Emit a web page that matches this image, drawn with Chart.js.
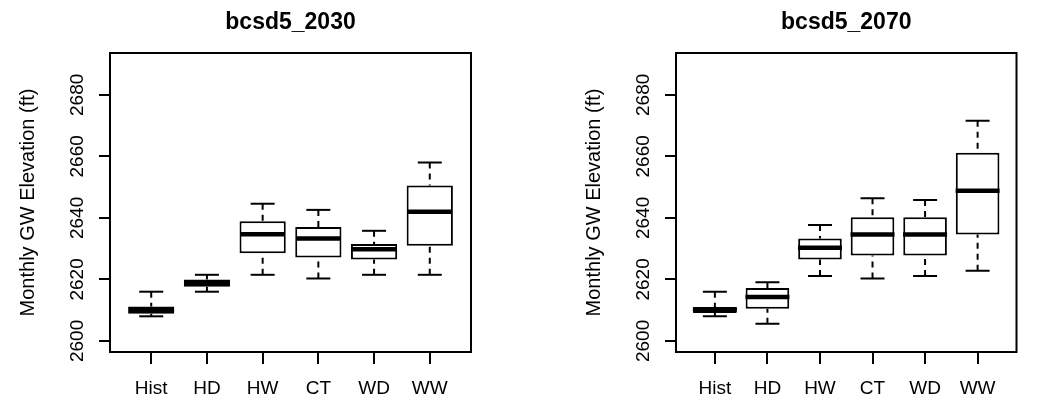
<!DOCTYPE html>
<html><head><meta charset="utf-8">
<script src="https://cdn.jsdelivr.net/npm/chart.js@4.4.1/dist/chart.umd.min.js"></script>
<style>
html,body{margin:0;padding:0;background:#fff;}
body{width:1043px;height:400px;position:relative;overflow:hidden;}
canvas{position:absolute;top:0;}
</style></head><body>
<canvas id="c1" width="521" height="400" style="left:0;width:521px;height:400px"></canvas>
<canvas id="c2" width="477" height="400" style="left:566px;width:477px;height:400px"></canvas>
<script>
// ---- data ----
const categories = ['Hist', 'HD', 'HW', 'CT', 'WD', 'WW'];
const yTickValues = [2600, 2620, 2640, 2660, 2680];
const yTitle = 'Monthly GW Elevation (ft)';

const title2030 = 'bcsd5_2030';
const low2030  = [2608.0, 2616.0, 2621.5, 2620.3, 2621.5, 2621.5];
const q1_2030  = [2608.8, 2617.6, 2628.5, 2627.1, 2626.5, 2630.9];
const med2030  = [2610.0, 2618.8, 2634.7, 2633.3, 2629.8, 2642.0];
const q3_2030  = [2611.2, 2620.0, 2638.9, 2637.0, 2631.5, 2650.5];
const high2030 = [2616.0, 2621.5, 2644.6, 2642.6, 2635.8, 2658.0];

const title2070 = 'bcsd5_2070';
const low2070  = [2608.0, 2605.6, 2621.1, 2620.3, 2621.1, 2622.8];
const q1_2070  = [2609.1, 2610.5, 2626.5, 2627.8, 2627.8, 2634.6];
const med2070  = [2610.2, 2614.3, 2630.3, 2634.6, 2634.6, 2648.8];
const q3_2070  = [2611.0, 2617.2, 2633.3, 2640.2, 2640.2, 2661.2];
const high2070 = [2616.0, 2619.1, 2637.7, 2646.4, 2645.8, 2671.6];

// ---- drawing ----
const FONT = 'Liberation Sans, Arial, sans-serif';

const framePlugin = {
  id: 'frame',
  afterDraw(chart) {
    const {ctx, chartArea: a} = chart;
    ctx.save();
    ctx.strokeStyle = '#000';
    ctx.lineWidth = 2;
    ctx.strokeRect(a.left, a.top, a.right - a.left, a.bottom - a.top);
    ctx.restore();
  }
};

function makeChart(id, title, low, q1, med, q3, high, padRight) {
  const whiskers = [];
  const caps = [];
  categories.forEach((c, i) => {
    const x = i + 1;
    whiskers.push({x, y: high[i]}, {x, y: q3[i]}, {x, y: null});
    whiskers.push({x, y: low[i]}, {x, y: q1[i]}, {x, y: null});
    caps.push({x, y: high[i]}, {x, y: low[i]});
  });
  const boxes = categories.map((c, i) => ({x: i + 1, y: [q1[i], q3[i]]}));
  const medians = categories.map((c, i) => ({x: i + 1, y: med[i]}));

  const gridOpts = (len) => ({
    display: true, drawOnChartArea: false, drawTicks: true, offset: false,
    tickLength: len, tickColor: '#000', tickWidth: 2, color: '#000', lineWidth: 2
  });

  return new Chart(document.getElementById(id), {
    type: 'bar',
    data: {
      datasets: [
        {type: 'line', data: whiskers, borderColor: '#000', borderWidth: 2,
         borderDash: [6, 5], pointRadius: 0, spanGaps: false, order: 3, fill: false},
        {type: 'bar', data: boxes, backgroundColor: '#fff', borderColor: '#000',
         borderWidth: 2, borderSkipped: false, barPercentage: 0.83,
         categoryPercentage: 1, order: 2},
        {type: 'line', data: medians, showLine: false, pointStyle: 'line',
         pointRadius: 22, pointBorderWidth: 4.5, pointBorderColor: '#000', order: 1},
        {type: 'line', data: caps, showLine: false, pointStyle: 'line',
         pointRadius: 12, pointBorderWidth: 2, pointBorderColor: '#000', order: 0}
      ]
    },
    options: {
      responsive: false, animation: false, events: [], devicePixelRatio: 1,
      layout: {padding: {left: 0, right: padRight, top: 0, bottom: 0}},
      plugins: {
        legend: {display: false}, tooltip: {enabled: false},
        title: {display: true, text: title, fullSize: false, color: '#000',
                font: {family: FONT, size: 23, weight: 'bold'},
                padding: {top: 8.4, bottom: 17}}
      },
      scales: {
        x: {
          type: 'linear', min: 0.26, max: 6.74, offset: false,
          afterBuildTicks(s) { s.ticks = categories.map((c, i) => ({value: i + 1})); },
          afterFit(s) { s.height = 48; },
          ticks: {callback: (v) => categories[v - 1], color: '#000',
                  font: {family: FONT, size: 19}, padding: 13.7,
                  maxRotation: 0, minRotation: 0, autoSkip: false},
          grid: gridOpts(12),
          border: {display: false}
        },
        y: {
          type: 'linear', min: 2596.4, max: 2693.6,
          afterBuildTicks(s) { s.ticks = yTickValues.map(v => ({value: v})); },
          afterFit(s) { s.width = 110; },
          ticks: {callback: (v) => String(v), color: '#000',
                  font: {family: FONT, size: 19}, padding: 0,
                  minRotation: 90, maxRotation: 90, crossAlign: 'center'},
          grid: gridOpts(11),
          border: {display: false},
          title: {display: true, text: yTitle, color: '#000',
                  font: {family: FONT, size: 20}, padding: {top: 16, bottom: 0}}
        }
      }
    },
    plugins: [framePlugin]
  });
}

makeChart('c1', title2030, low2030, q1_2030, med2030, q3_2030, high2030, 50);
makeChart('c2', title2070, low2070, q1_2070, med2070, q3_2070, high2070, 6);
</script>
</body></html>
